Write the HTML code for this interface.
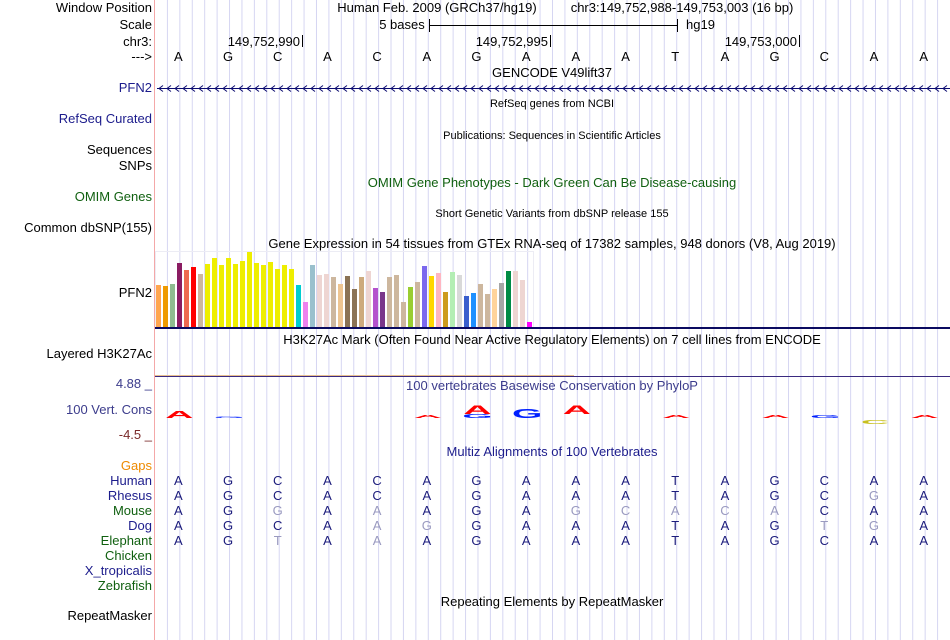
<!DOCTYPE html>
<html><head><meta charset="utf-8">
<style>
html,body{margin:0;padding:0;background:#fff;}
svg{display:block;font-family:"Liberation Sans",sans-serif;}
</style></head>
<body>
<svg id="chart" width="950" height="640" viewBox="0 0 950 640"></svg>
<script>
const bases = ['A','G','C','A','C','A','G','A','A','A','T','A','G','C','A','A'];
const gtexValues = [42,41,43,64,57,60,53,63,69,62,69,63,66,75,64,62,65,58,62,58,42,25,62,52,53,50,43,51,38,50,56,39,35,50,52,25,40,45,61,51,54,35,55,52,31,34,43,33,38,44,56,56,47,5];
const gtexColors = ['#FFA54F','#EE9A00','#8FBC8F','#8B1C62','#EE6A50','#FF0000','#CDB79E','#EEEE00','#EEEE00','#EEEE00','#EEEE00','#EEEE00','#EEEE00','#EEEE00','#EEEE00','#EEEE00','#EEEE00','#EEEE00','#EEEE00','#EEEE00','#00CED1','#EE82EE','#9AC0CD','#EED5D2','#EED5D2','#CDB79E','#EEC591','#8B7355','#8B7355','#CDAA7D','#EED5D2','#B452CD','#7A378B','#CDB79E','#CDB79E','#CDB79E','#9ACD32','#CDB79E','#7B68EE','#FFD700','#FFB6C1','#CD9B1D','#B4EEB4','#D9D9D9','#3A5FCD','#1E90FF','#CDB79E','#CDB79E','#FFD39B','#A6A6A6','#008B45','#EED5D2','#EED5D2','#FF00FF'];
const species = ['Human','Rhesus','Mouse','Dog','Elephant'];
const alignRows = ['AGCACAGAAATAGCAA','AGCACAGAAATAGCgA','AGgAaAGAgcacaCAA','AGCAagGAAATAGtgA','AGtAaAGAAATAGCAA'];
const logoCols = [0,1,5,6,7,8,10,12,13,14,15];
const logoLetters = ['A','G','A','A','G','A','A','A','G','C','A'];
const logoHeights = [7,1,3,8,9,8,3,3,3,-4,3];

const NS='http://www.w3.org/2000/svg';
const svg=document.getElementById('chart');
const X0=155, BW=(950-155)/16;
function el(tag,attrs,text){const e=document.createElementNS(NS,tag);for(const k in attrs)e.setAttribute(k,attrs[k]);if(text!==undefined)e.textContent=text;svg.appendChild(e);return e;}
function baseX(i){return X0+BW*(i+0.5)-1.5;}

for(let x=X0+BW/4;x<950;x+=BW/4){const g=el('line',{x1:x,x2:x,y1:0,y2:640,stroke:'#d6d6f2','stroke-width':1});

}
const pl=el('line',{x1:154.5,x2:154.5,y1:0,y2:640,stroke:'#f4a8a8','stroke-width':1});



function label(txt,y,color,name){const t=el('text',{x:152,y:y,'text-anchor':'end','font-size':13,fill:color||'#000'},txt);

return t;}
function title(txt,y,size,color,name,cx){const t=el('text',{x:cx||552,y:y,'text-anchor':'middle','font-size':size,fill:color||'#000'},txt);

return t;}

label('Window Position',12,'#000','window-position-label');
label('Scale',29,'#000','scale-label');
label('chr3:',46,'#000','chr-label');
label('--->',61,'#000','strand-label');
title('Human Feb. 2009 (GRCh37/hg19)',12,13,'#000','assembly-title',437);
title('chr3:149,752,988-149,753,003 (16 bp)',12,13,'#000','position-title',682);
title('5 bases',29,13,'#000','scale-text',402);
el('line',{x1:429.5,x2:429.5,y1:19,y2:32,stroke:'#000'});
el('line',{x1:429.5,x2:677,y1:25.5,y2:25.5,stroke:'#000'});
el('line',{x1:677.5,x2:677.5,y1:19,y2:32,stroke:'#000'});
const hg=el('text',{x:686,y:29,'font-size':13},'hg19');


[['149,752,990',302],['149,752,995',550],['149,753,000',799]].forEach(([t,x])=>{
 const e=el('text',{x:x-2,y:46,'text-anchor':'end','font-size':13},t);
 
 
 el('line',{x1:x+0.5,x2:x+0.5,y1:35,y2:47,stroke:'#000'});
});
bases.forEach((b,i)=>{const t=el('text',{x:baseX(i),y:61,'text-anchor':'middle','font-size':13},b);

});

title('GENCODE V49lift37',77,13,'#000','gencode-title');
label('PFN2',92,'#1c1c8c','pfn2-gencode-label');
el('line',{x1:157,x2:950,y1:88.5,y2:88.5,stroke:'#0a0a70','stroke-width':1});
let chev='';for(let x=159;x<950;x+=8)chev+=`M${x+4},85.5 L${x},88.5 L${x+4},91.5 `;
const cp=el('path',{d:chev,stroke:'#0a0a70',fill:'none','stroke-width':1});



title('RefSeq genes from NCBI',107,11,'#000','refseq-title');
label('RefSeq Curated',123,'#1c1c8c','refseq-label');
title('Publications: Sequences in Scientific Articles',139,11,'#000','publications-title');
label('Sequences',154,'#000','sequences-label');
label('SNPs',170,'#000','snps-label');
title('OMIM Gene Phenotypes - Dark Green Can Be Disease-causing',187,13,'#106010','omim-title');
label('OMIM Genes',201,'#106010','omim-label');
title('Short Genetic Variants from dbSNP release 155',217,11,'#000','dbsnp-title');
label('Common dbSNP(155)',232,'#000','dbsnp-label');
title('Gene Expression in 54 tissues from GTEx RNA-seq of 17382 samples, 948 donors (V8, Aug 2019)',248,13,'#000','gtex-title');
label('PFN2',297,'#000','gtex-label');

const base=327, maxPx=77, maxV=77;
el('rect',{x:155.5,y:251.5,width:378,height:76,fill:'none',stroke:'#ececf4'});
gtexValues.forEach((v,i)=>{const h=v/maxV*maxPx;const r=el('rect',{x:156+i*7,y:base-h,width:5,height:h,fill:gtexColors[i]});

});
el('rect',{x:155,y:327,width:795,height:2,fill:'#0a0a60'});

title('H3K27Ac Mark (Often Found Near Active Regulatory Elements) on 7 cell lines from ENCODE',344,13,'#000','h3k27ac-title');
label('Layered H3K27Ac',358,'#000','h3k27ac-label');
el('line',{x1:155,x2:950,y1:376.5,y2:376.5,stroke:'#3a2a80','stroke-width':1});
el('line',{x1:155,x2:574,y1:375.5,y2:375.5,stroke:'#e8c090','stroke-width':1});

const t1=el('text',{x:152,y:388,'text-anchor':'end','font-size':13,fill:'#3c3c8c'},'4.88 _');


label('100 Vert. Cons',414,'#3c3c8c','cons-label');
const t2=el('text',{x:152,y:439,'text-anchor':'end','font-size':13,fill:'#7a2a2a'},'-4.5 _');


title('100 vertebrates Basewise Conservation by PhyloP',390,13,'#3c3c8c','phylop-title');

const logoBase=418;
const lcol={A:'#ff0000',G:'#0020ff',C:'#c8c020'};
logoCols.forEach((c,i)=>{const h=logoHeights[i];const L=logoLetters[i];
 const sy=Math.abs(h)/9;const y=h>=0?logoBase-(L==='A'&&h===8?4:0):logoBase+2-h;
 const t=el('text',{x:0,y:0,'text-anchor':'middle','font-size':13,'font-weight':'bold',fill:lcol[L],transform:`translate(${baseX(c)+1},${y}) scale(3,${sy})`},L);
 
 });
const gs=el('text',{x:0,y:0,'text-anchor':'middle','font-size':13,'font-weight':'bold',fill:'#0020ff',transform:`translate(${baseX(6)+1},${logoBase}) scale(3,0.45)`},'G');



title('Multiz Alignments of 100 Vertebrates',456,13,'#1c1c8c','multiz-title');
label('Gaps',470,'#ee8a00','gaps-label');
const spColors=['#1c1c8c','#1c1c8c','#106010','#1c1c8c','#106010'];
species.forEach((s,r)=>{const y=485+15*r;label(s,y,spColors[r],'species-label');
 alignRows[r].split('').forEach((ch,i)=>{const grey=ch===ch.toLowerCase();
  const t=el('text',{x:baseX(i),y:y,'text-anchor':'middle','font-size':13,fill:grey?'#9a9ac0':'#1c1c7c'},ch.toUpperCase());
  
  });});
label('Chicken',560,'#106010','chicken-label');
label('X_tropicalis',575,'#1c1c8c','xtropicalis-label');
label('Zebrafish',590,'#106010','zebrafish-label');
title('Repeating Elements by RepeatMasker',606,13,'#000','repeatmasker-title');
label('RepeatMasker',620,'#000','repeatmasker-label');
</script>
</body></html>
